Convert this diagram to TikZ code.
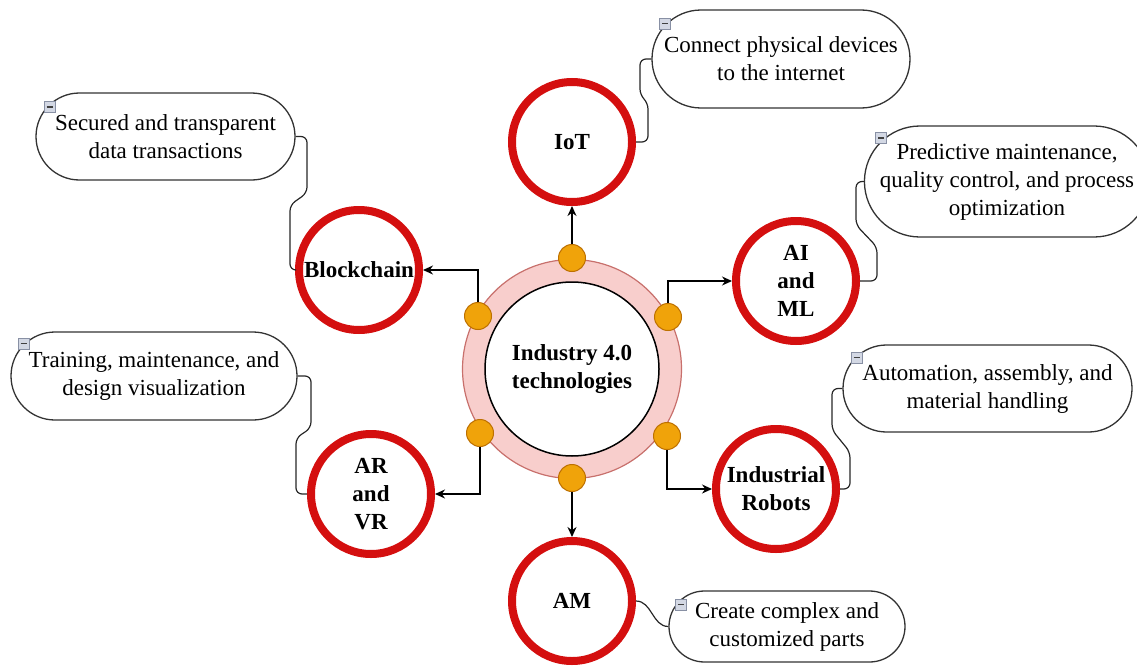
\documentclass[tikz,border=0pt]{standalone}
\usepackage{fontspec}
\setmainfont{Liberation Serif}
\usetikzlibrary{shapes.misc, arrows.meta}

\definecolor{techred}{HTML}{D40F0F}
\definecolor{ringfill}{HTML}{F8CECC}
\definecolor{ringline}{HTML}{C8706C}
\definecolor{portfill}{HTML}{F0A30A}
\definecolor{portline}{HTML}{BD7000}
\definecolor{btnfill}{HTML}{D3D8E4}
\definecolor{btnline}{HTML}{8890A4}

\begin{document}
\begin{tikzpicture}[
  x=1pt, y=-1pt,
  every node/.style={font=\fontsize{23}{28}\selectfont, align=center},
  tech/.style={circle, draw=techred, fill=white, line width=8pt, minimum size=120pt, inner sep=0pt, font=\fontsize{23}{28}\selectfont\bfseries},
  note/.style={rounded rectangle, draw=black!80, fill=white, line width=1.3pt, inner sep=0pt},
  port/.style={circle, draw=portline, fill=portfill, line width=1pt, minimum size=27pt, inner sep=0pt},
  btn/.style={rectangle, draw=btnline, fill=btnfill, line width=0.8pt, minimum size=11pt, inner sep=0pt,
    path picture={\draw[line width=1.6pt, black!75] ([xshift=-3pt]path picture bounding box.center) -- ([xshift=3pt]path picture bounding box.center);}},
  link/.style={draw=black!85, line width=1.2pt, rounded corners=6pt},
  arr/.style={-{Stealth[length=10pt, width=9pt]}, line width=1.4pt},
  ]

\clip (0,0) rectangle (1137,669);

% Hub
\node[circle, draw=ringline, fill=ringfill, line width=1.2pt, minimum size=219pt] (ring) at (572,369) {};
\node[circle, draw=black, fill=white, line width=1.5pt, minimum size=174pt, font=\fontsize{23}{28}\selectfont\bfseries] (hub) at (572,369) {Industry 4.0\\technologies};

% Ports on the ring
\node[port] (dtop) at (572,258) {};
\node[port] (dlu) at (478,316) {};
\node[port] (dru) at (668,317) {};
\node[port] (dll) at (480,433) {};
\node[port] (drl) at (667,436) {};
\node[port] (dbot) at (572,478) {};

% Technologies
\node[tech] (iot) at (572,142) {IoT};
\node[tech] (chain) at (359,270) {Blockchain};
\node[tech] (ai) at (796,281) {AI\\and\\ML};
\node[tech] (arvr) at (371,494) {AR\\and\\VR};
\node[tech] (robot) at (776,489) {Industrial\\Robots};
\node[tech] (am) at (572,601) {AM};

% Notes
\node[note, minimum width=258pt, minimum height=98pt] (iotnote) at (781,59) {Connect physical devices\\to the internet};
\node[note, minimum width=259pt, minimum height=87pt] (chainnote) at (165.5,136.5) {Secured and transparent\\data transactions};
\node[note, minimum width=278pt, minimum height=111pt] (ainote) at (1007,181.5) {Predictive maintenance,\\quality control, and process\\optimization};
\node[note, minimum width=286pt, minimum height=88pt] (arvrnote) at (154,376) {Training, maintenance, and\\design visualization};
\node[note, minimum width=289pt, minimum height=87pt] (robotnote) at (987.5,388.5) {Automation, assembly, and\\material handling};
\node[note, minimum width=236pt, minimum height=71pt] (amnote) at (787,626.5) {Create complex and\\customized parts};

% Arrows
\draw[arr] (dtop.north) -- (iot.south);
\draw[arr] (dlu.north) |- (chain.east);
\draw[arr] (dru.north) |- (ai.west);
\draw[arr] (dll.south) |- (arvr.east);
\draw[arr] (drl.south) |- (robot.west);
\draw[arr] (dbot.south) -- (am.north);

% Links to notes
\draw[link] (iot.east) -| (648,103) -- (640,95) |- (iotnote.west);
\draw[link] (chainnote.east) -| (307,193) -- (290,205) |- (chain.west);
\draw[link] (ai.east) -| (877,247) -- (856,225) |- (ainote.west);
\draw[link] (arvrnote.east) -| (311,428) -- (296,438) |- (arvr.west);
\draw[link] (robot.east) -| (850,452) -- (832,430) |- (robotnote.west);
\draw[link] (am.east) to[out=0, in=180] (amnote.west);

% Collapse buttons
\node[btn] (iotbtn) at (665,23.5) {};
\node[btn] (chainbtn) at (49.5,107) {};
\node[btn] (aibtn) at (881,138) {};
\node[btn] (arvrbtn) at (23.5,343.5) {};
\node[btn] (robotbtn) at (856.5,357.5) {};
\node[btn] (ambtn) at (680.5,604.5) {};

\end{tikzpicture}
\end{document}
